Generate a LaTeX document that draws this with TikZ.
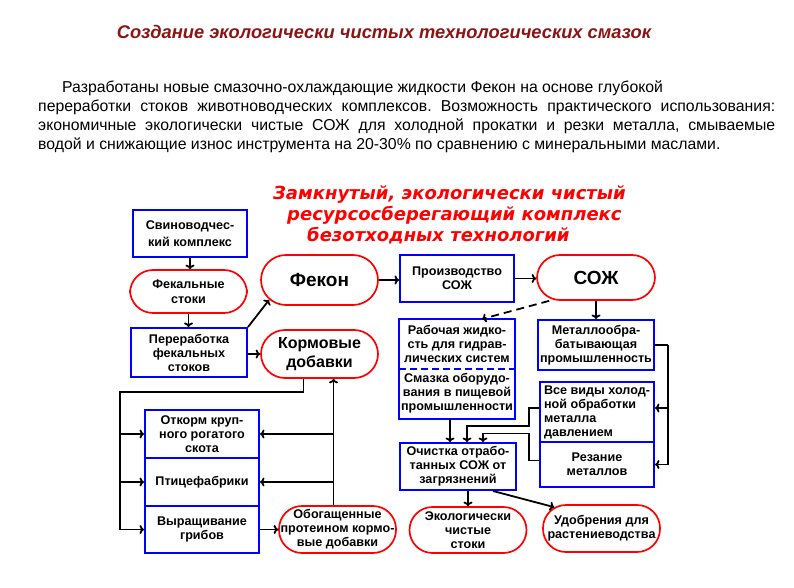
\documentclass[tikz,border=0pt]{standalone}
\usepackage{fontspec}
\setmainfont{Liberation Sans}
\newfontfamily\mottofont{DejaVu Sans}
\usetikzlibrary{arrows,arrows.meta}

\definecolor{titlered}{RGB}{140,20,20}
\definecolor{boxblue}{RGB}{0,0,255}
\definecolor{ovalred}{RGB}{255,0,0}

\tikzset{
  >={To[length=4.5pt,width=9pt]},
  blbox/.style={draw=boxblue, line width=2pt, minimum width=114pt, minimum height=47pt,
    inner sep=1pt, align=center, font=\bfseries\fontsize{12.6}{14}\selectfont},
  redoval/.style={draw=ovalred, line width=1.7pt, rounded corners=23pt, minimum width=117pt,
    minimum height=46pt, inner sep=1pt, align=center, font=\bfseries\fontsize{12.6}{14}\selectfont},
  bigoval/.style={redoval, font=\bfseries\fontsize{19}{22}\selectfont},
  arr/.style={->, line width=1.8pt},
}

\begin{document}
\begin{tikzpicture}[x=1pt,y=-1pt]
  \useasboundingbox (0,0) rectangle (794,588);

  % Headings
  \node [font=\bfseries\itshape\fontsize{18.3}{21}\selectfont, text=titlered] (title) at (384,32)
    {Создание экологически чистых технологических смазок};
  \node [anchor=north west, inner sep=0, text width=737pt, align=justify,
    font=\fontsize{15.8}{18.8}\selectfont] (intro) at (38,81)
    {\frenchspacing\hspace*{24pt}Разработаны новые смазочно-охлаждающие жидкости Фекон на основе глубокой\\
    переработки стоков животноводческих комплексов. Возможность практического использования:\linebreak
    экономичные экологически чистые СОЖ для холодной прокатки и резки металла, смываемые\linebreak
    водой и снижающие износ инструмента на 20-30\% по сравнению с минеральными маслами.};
  \node [anchor=north west, inner sep=0, align=left, text=ovalred,
    font=\mottofont\bfseries\itshape\fontsize{18}{21}\selectfont] (motto) at (273,186)
    {Замкнутый, экологически чистый\\
    \hspace*{14pt}ресурсосберегающий комплекс\\
    \hspace*{34pt}безотходных технологий};

  % Left column
  \node [blbox, font=\bfseries\fontsize{12.6}{17}\selectfont] (svin) at (190,233.5) {Свиноводчес-\\кий комплекс};
  \node [redoval, minimum height=43pt, font=\bfseries\fontsize{12.6}{15}\selectfont] (fekst) at (188.5,291.5) {Фекальные\\стоки};
  \node [blbox, minimum width=116pt, minimum height=49pt] (pererab) at (189,352.5) {Переработка\\фекальных\\стоков};
  \node [bigoval, minimum height=50pt, rounded corners=25pt] (fekon) at (319.5,280) {Фекон};
  \node [redoval, minimum height=48pt, rounded corners=24pt, font=\bfseries\fontsize{16}{19}\selectfont] (korm) at (319.5,354) {Кормовые\\добавки};

  % Farms
  \node [blbox, minimum height=48pt] (otkorm) at (202,434) {Откорм круп-\\ного рогатого\\скота};
  \node [blbox, minimum height=48pt] (ptica) at (202,482) {Птицефабрики};
  \node [blbox] (vyrash) at (202,529.5) {Выращивание\\грибов};
  \node [redoval, minimum height=47pt] (obog) at (337.5,529.5) {Обогащенные\\протеином кормо-\\вые добавки};

  % Lubricants
  \node [blbox] (proizv) at (457,278.5) {Производство\\СОЖ};
  \node [bigoval, minimum width=118pt, minimum height=45pt] (soj) at (596,277.5) {СОЖ};
  \node [blbox, draw=none, minimum height=48pt] (rabzh) at (457,344) {Рабочая жидко-\\сть для гидрав-\\лических систем};
  \node [blbox, draw=none, minimum height=50pt] (smazka) at (457,393) {Смазка оборудо-\\вания в пищевой\\промышленности};
  \draw [boxblue, line width=2pt] (rabzh.north west) rectangle (smazka.south east);
  \draw [boxblue, line width=1.5pt, dash pattern=on 7pt off 4pt] (rabzh.south west) -- (rabzh.south east);
  \node [blbox, minimum width=116pt, minimum height=50pt] (metall) at (596,345) {Металлообра-\\батывающая\\промышленность};
  \node [blbox, minimum height=60pt, align=left] (vsevidy) at (597,412) {Все виды холод-\\ной обработки\\металла\\давлением};
  \node [blbox, minimum height=45pt] (rez) at (597,464.5) {Резание\\металлов};
  \node [blbox, minimum width=116pt] (ochist) at (458,466.5) {Очистка отрабо-\\танных СОЖ от\\загрязнений};
  \node [redoval] (ekol) at (468,530) {Экологически\\чистые\\стоки};
  \node [redoval, minimum height=47pt] (udobr) at (601.5,528.5) {Удобрения для\\растениеводства};

  % Connectors
  \draw [arr] (svin.south) -- (svin.south |- fekst.north);
  \draw [arr] (fekst.south) -- (fekst.south |- pererab.north);
  \draw [arr] (pererab.north east) -- ([xshift=9pt,yshift=6pt]fekon.south west);
  \draw [arr] (pererab.east |- korm.west) -- (korm.west);
  \draw [arr] (fekon.east) -- (fekon.east -| proizv.west);
  \draw [arr] (proizv.east) -- (proizv.east -| soj.west);
  \draw [arr, dash pattern=on 8pt off 5pt] ([xshift=13pt]soj.south west) -- ([xshift=25pt]rabzh.north);
  \draw [arr] (soj.south) -- (soj.south |- metall.north);
  \draw [line width=1.8pt] (metall.east) -- ++(13,0) coordinate (mr);
  \draw [arr] (mr) |- ([yshift=4pt]vsevidy.east);
  \draw [arr] (mr) |- (rez.east);
  \draw [arr] ([xshift=-7pt]smazka.south) -- ([xshift=-7pt]smazka.south |- ochist.north);
  \draw [arr] ([yshift=4pt]vsevidy.west) -- ++(-10,0) -- ++(0,18) -| ([xshift=9pt]ochist.north);
  \draw [arr] ([yshift=4pt]rez.west) -- ++(-10,0) -- ++(0,-27) -| ([xshift=25pt]ochist.north);
  \draw [arr] (ekol.north |- ochist.south) -- (ekol.north);
  \draw [arr] ([xshift=35pt]ochist.south) -- ([xshift=12pt,yshift=-3pt]udobr.north west);

  \coordinate (lft) at (120,392);
  \draw [line width=1.8pt] ([xshift=-16pt]korm.south) |- (lft) -- (lft |- vyrash.west);
  \foreach \n in {otkorm,ptica,vyrash}
    \draw [arr] (lft |- \n.west) -- (\n.west);
  \coordinate (up) at ([xshift=-4pt]obog.north);
  \draw [arr] (up) -- (up |- korm.south);
  \draw [arr] (up |- otkorm.east) -- (otkorm.east);
  \draw [arr] (up |- ptica.east) -- (ptica.east);
  \draw [arr] (vyrash.east) -- (vyrash.east -| obog.west);
\end{tikzpicture}
\end{document}
